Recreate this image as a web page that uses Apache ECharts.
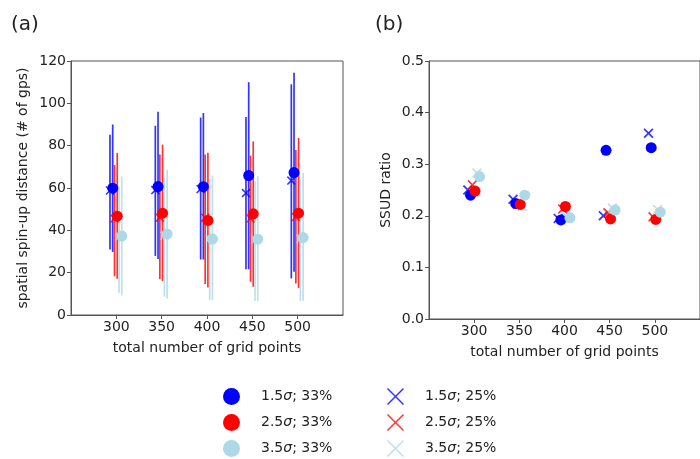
<!DOCTYPE html>
<html>
<head>
<meta charset="utf-8">
<script src="https://cdn.jsdelivr.net/npm/echarts@6/dist/echarts.min.js"></script>
<style>
  html, body { margin: 0; padding: 0; background: #fff; }
  #chart { width: 700px; height: 459px; }
</style>
</head>
<body>
<div id="chart"></div>
<script>
// grid sizes on the x axis
const gridPoints = [300, 350, 400, 450, 500];
const xTicks = [300, 350, 400, 450, 500];

// small shift along x so the markers do not sit on top of each other
const offset33 = [-4, 1, 6];
const offset25 = [-7, -2, 3];

const names33 = ['1.5σ; 33%', '2.5σ; 33%', '3.5σ; 33%'];
const names25 = ['1.5σ; 25%', '2.5σ; 25%', '3.5σ; 25%'];
const colors = ['#0000ff', '#ff0000', '#add8e6'];

// (a) spatial spin-up distance: mean, lower and upper end of the bars
const blue33 = [59.9, 60.7, 60.6, 65.9, 67.3];
const blue33Lo = [29.8, 26.4, 26.2, 21.6, 20.4];
const blue33Hi = [90, 96, 95.4, 110, 114.4];
const red33 = [46.7, 48.1, 44.7, 47.8, 48.1];
const red33Lo = [17.1, 16, 13, 13.3, 12.7];
const red33Hi = [76.6, 80.5, 76.7, 82, 83.6];
const lb33 = [37.3, 38.3, 35.9, 35.8, 36.6];
const lb33Lo = [9.3, 7.8, 7, 6.6, 6.7];
const lb33Hi = [65.4, 68.6, 65.9, 65.5, 67.1];

const blue25 = [58.8, 59, 59.5, 57.6, 63.5];
const blue25Lo = [31, 27.9, 26.2, 21.6, 17.3];
const blue25Hi = [85.2, 89.4, 93.3, 93.6, 109];
const red25 = [45.6, 46, 46, 45.6, 46.3];
const red25Lo = [18.3, 16.9, 14.6, 15.7, 14.9];
const red25Hi = [70.9, 75.8, 75.8, 75.3, 78];
const lb25 = [37, 37.5, 36, 35.5, 36];
const lb25Lo = [10.5, 8.6, 7, 6.6, 6.7];
const lb25Hi = [60.7, 64.5, 64, 63.2, 64];

// (b) SSUD ratio
const ratioBlue33 = [0.240, 0.224, 0.192, 0.327, 0.332];
const ratioRed33 = [0.248, 0.222, 0.218, 0.194, 0.193];
const ratioLb33 = [0.276, 0.240, 0.196, 0.211, 0.207];
const ratioBlue25 = [0.250, 0.232, 0.195, 0.200, 0.360];
const ratioRed25 = [0.260, 0.222, 0.213, 0.206, 0.198];
const ratioLb25 = [0.283, 0.218, 0.197, 0.215, 0.212];

const means33 = [blue33, red33, lb33];
const lows33 = [blue33Lo, red33Lo, lb33Lo];
const highs33 = [blue33Hi, red33Hi, lb33Hi];
const means25 = [blue25, red25, lb25];
const lows25 = [blue25Lo, red25Lo, lb25Lo];
const highs25 = [blue25Hi, red25Hi, lb25Hi];
const ratios33 = [ratioBlue33, ratioRed33, ratioLb33];
const ratios25 = [ratioBlue25, ratioRed25, ratioLb25];

const FONT = 'DejaVu Sans';
const crossIcon = 'path://M0,1.2L1.2,0L5,3.8L8.8,0L10,1.2L6.2,5L10,8.8L8.8,10L5,6.2L1.2,10L0,8.8L3.8,5Z';
// thinner x for the legend, where the icon is drawn bigger
const crossLegend = 'path://M0,0.6L0.6,0L5,4.4L9.4,0L10,0.6L5.6,5L10,9.4L9.4,10L5,5.6L0.6,10L0,9.4L4.4,5Z';

const pts = (vals, off) => gridPoints.map((g, i) => [g + off, vals[i]]);
const bars = (lo, hi, off) => gridPoints.map((g, i) => [g + off, lo[i], hi[i]]);

function errorBars(data, color, z) {
  return {
    type: 'custom',
    xAxisIndex: 0,
    yAxisIndex: 0,
    z: z,
    silent: true,
    encode: { x: 0, y: [1, 2] },
    data: data,
    renderItem: function (params, api) {
      const p1 = api.coord([api.value(0), api.value(1)]);
      const p2 = api.coord([api.value(0), api.value(2)]);
      return {
        type: 'line',
        shape: { x1: p1[0], y1: p1[1], x2: p2[0], y2: p2[1] },
        style: { stroke: color, lineWidth: 1.7, opacity: 0.8 }
      };
    }
  };
}

const series = [];
for (let k = 0; k < 3; k++) {
  // panel (a)
  series.push(errorBars(bars(lows25[k], highs25[k], offset25[k]), colors[k], 2));
  series.push(errorBars(bars(lows33[k], highs33[k], offset33[k]), colors[k], 2));
}
for (let k = 0; k < 3; k++) {
  series.push({
    name: names25[k], type: 'scatter', xAxisIndex: 0, yAxisIndex: 0, z: 3,
    symbol: crossIcon, symbolSize: 9,
    itemStyle: { color: colors[k], opacity: 0.8 },
    data: pts(means25[k], offset25[k])
  });
  series.push({
    name: names33[k], type: 'scatter', xAxisIndex: 0, yAxisIndex: 0, z: 4,
    symbol: 'circle', symbolSize: 11,
    itemStyle: { color: colors[k], opacity: 1 },
    data: pts(means33[k], offset33[k])
  });
  // panel (b)
  series.push({
    name: names25[k], type: 'scatter', xAxisIndex: 1, yAxisIndex: 1, z: 3,
    symbol: crossIcon, symbolSize: 10,
    itemStyle: { color: colors[k], opacity: 0.8 },
    data: pts(ratios25[k], offset25[k])
  });
  series.push({
    name: names33[k], type: 'scatter', xAxisIndex: 1, yAxisIndex: 1, z: 4,
    symbol: 'circle', symbolSize: 11,
    itemStyle: { color: colors[k], opacity: 1 },
    data: pts(ratios33[k], offset33[k])
  });
}

const axisCommon = {
  axisLine: { show: true, lineStyle: { color: '#555', width: 1 } },
  axisTick: { show: true, inside: false, length: 4, lineStyle: { color: '#555' } },
  axisLabel: { color: '#222', fontSize: 14, fontFamily: FONT, margin: 5 },
  splitLine: { show: false },
  nameTextStyle: { color: '#222', fontSize: 14, fontFamily: FONT }
};

function xAxis(idx) {
  return Object.assign({}, axisCommon, {
    type: 'value', gridIndex: idx, min: 250, max: 550, interval: 50,
    name: 'total number of grid points', nameLocation: 'middle', nameGap: 26,
    axisTick: Object.assign({}, axisCommon.axisTick, { customValues: xTicks }),
    axisLabel: Object.assign({}, axisCommon.axisLabel, { customValues: xTicks })
  });
}

const fmt = s => s.replace('σ', '{i|σ}');
const legendText = {
  color: '#222', fontSize: 14, fontFamily: FONT, padding: [0, 0, 0, 16],
  rich: { i: { fontStyle: 'italic', fontSize: 14, fontFamily: FONT, color: '#222' } }
};

const option = {
  animation: false,
  backgroundColor: '#fff',
  title: [
    { text: '(a)', left: 6, top: 10, textStyle: { fontSize: 20, fontWeight: 'normal', color: '#222', fontFamily: FONT } },
    { text: '(b)', left: 370, top: 10, textStyle: { fontSize: 20, fontWeight: 'normal', color: '#222', fontFamily: FONT } }
  ],
  grid: [
    { left: 71, top: 61, width: 272, height: 254, show: true, borderColor: '#555', borderWidth: 1 },
    { left: 429, top: 61, width: 277, height: 258, show: true, borderColor: '#555', borderWidth: 1 }
  ],
  xAxis: [xAxis(0), xAxis(1)],
  yAxis: [
    Object.assign({}, axisCommon, {
      type: 'value', gridIndex: 0, min: 0, max: 120, interval: 20,
      name: 'spatial spin-up distance (# of gps)', nameLocation: 'middle', nameGap: 41
    }),
    Object.assign({}, axisCommon, {
      type: 'value', gridIndex: 1, min: 0, max: 0.5, interval: 0.1,
      name: 'SSUD ratio', nameLocation: 'middle', nameGap: 36,
      axisLabel: Object.assign({}, axisCommon.axisLabel, { formatter: v => v.toFixed(1) })
    })
  ],
  legend: [
    {
      orient: 'vertical', left: 223, top: 388, height: 90, padding: 0,
      itemWidth: 17, itemHeight: 17, itemGap: 9,
      selectedMode: false, textStyle: legendText, formatter: fmt,
      data: names33.map(n => ({ name: n, icon: 'circle' }))
    },
    {
      orient: 'vertical', left: 387, top: 388, height: 90, padding: 0,
      itemWidth: 17, itemHeight: 17, itemGap: 9,
      selectedMode: false, textStyle: legendText, formatter: fmt,
      data: names25.map(n => ({ name: n, icon: crossLegend }))
    }
  ],
  series: series
};

const chart = echarts.init(document.getElementById('chart'));
chart.setOption(option);
</script>
</body>
</html>
